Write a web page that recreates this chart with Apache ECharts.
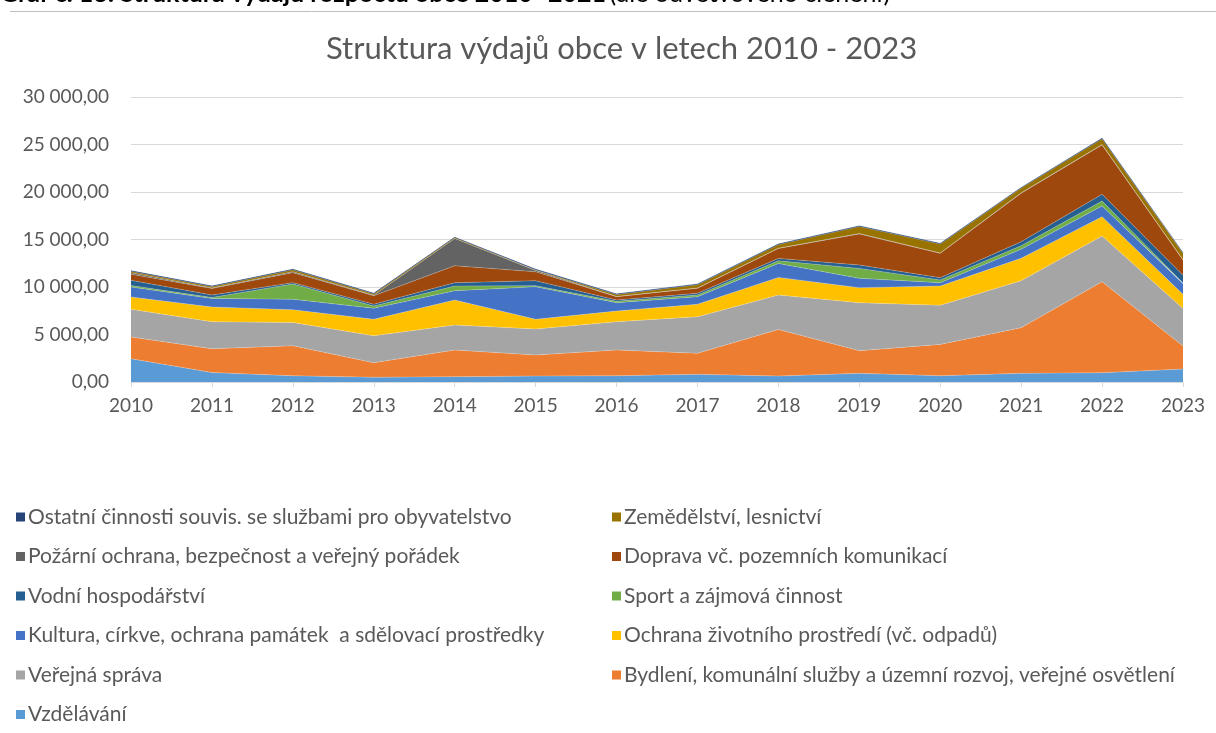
<!DOCTYPE html>
<html>
<head>
<meta charset="utf-8">
<title>Struktura výdajů obce</title>
<script src="https://cdn.jsdelivr.net/npm/echarts@6/dist/echarts.min.js"></script>
<style>
  html, body { margin: 0; padding: 0; background: #fff; }
  #chart { width: 1216px; height: 733px; }
</style>
</head>
<body>
<div id="chart"></div>
<script>
// roky
var years = ['2010', '2011', '2012', '2013', '2014', '2015', '2016', '2017', '2018', '2019', '2020', '2021', '2022', '2023'];

// výdaje podle odvětví
var vzdelavani = [2450, 1000, 660, 500, 560, 630, 660, 810, 630, 910, 660, 910, 980, 1370];
var bydleni = [2300, 2500, 3150, 1530, 2810, 2210, 2710, 2210, 4900, 2390, 3300, 4810, 9580, 2420];
var verejnaSprava = [2900, 2850, 2450, 2840, 2630, 2740, 2980, 3850, 3620, 5050, 4110, 4950, 4810, 3960];
var ochranaZP = [1300, 1550, 1350, 1730, 2630, 1020, 1120, 1310, 1860, 1580, 2030, 2350, 2030, 1480];
var kultura = [1050, 900, 1100, 1160, 980, 3430, 880, 800, 1470, 980, 350, 950, 1130, 1100];
var sport = [150, 100, 1600, 240, 490, 110, 140, 180, 280, 1050, 290, 380, 520, 100];
var vodni = [550, 250, 150, 180, 350, 520, 140, 180, 250, 360, 240, 420, 710, 800];
var doprava = [650, 700, 1050, 900, 1790, 940, 350, 520, 1050, 3260, 2560, 5090, 5190, 1600];
var pozarni = [150, 50, 100, 50, 2870, 150, 30, 40, 30, 50, 40, 50, 50, 30];
var zemedelstvi = [150, 150, 200, 150, 100, 50, 200, 350, 380, 740, 950, 500, 600, 700];
var ostatni = [50, 50, 50, 50, 20, 60, 50, 50, 50, 50, 50, 50, 50, 50];

var seriesNames = [
  'Vzdělávání',
  'Bydlení, komunální služby a územní rozvoj, veřejné osvětlení',
  'Veřejná správa',
  'Ochrana životního prostředí (vč. odpadů)',
  'Kultura, církve, ochrana památek  a sdělovací prostředky',
  'Sport a zájmová činnost',
  'Vodní hospodářství',
  'Doprava vč. pozemních komunikací',
  'Požární ochrana, bezpečnost a veřejný pořádek',
  'Zemědělství, lesnictví',
  'Ostatní činnosti souvis. se službami pro obyvatelstvo'
];
var seriesData = [vzdelavani, bydleni, verejnaSprava, ochranaZP, kultura, sport, vodni, doprava, pozarni, zemedelstvi, ostatni];
var colors = ['#5B9BD5', '#ED7D31', '#A5A5A5', '#FFC000', '#4472C4', '#70AD47', '#255E91', '#9E480E', '#636363', '#997300', '#264478'];

var font = 'Lato, "Noto Sans", sans-serif';

function fmt(v) {
  var s = Math.round(v).toString().replace(/\B(?=(\d{3})+(?!\d))/g, ' ');
  return s + ',00';
}

var series = seriesData.map(function (d, i) {
  return {
    name: seriesNames[i],
    type: 'line',
    stack: 'vydaje',
    data: d,
    symbol: 'none',
    color: colors[i],
    lineStyle: { width: 0.6, color: i === 10 ? '#264478' : 'rgba(255,255,255,0.35)' },
    areaStyle: { color: colors[i], opacity: 1 }
  };
});

var legendText = { fontFamily: font, fontSize: 21, color: '#595959', lineHeight: 22, padding: [0, 0, 0, -2] };

var myChart = echarts.init(document.getElementById('chart'));
myChart.setOption({
  animation: false,
  backgroundColor: '#fff',
  textStyle: { fontFamily: font },
  title: {
    text: 'Struktura výdajů obce v letech 2010 - 2023',
    left: 321,
    top: 28,
    textStyle: { fontFamily: font, fontSize: 31, fontWeight: 'normal', color: '#595959' }
  },
  graphic: [
    {
      type: 'text',
      left: 0,
      top: -19,
      style: {
        text: '{b|Graf č. 13: Struktura výdajů rozpočtu obce 2010 -2021} {n|(dle odvětvového členění)}',
        rich: {
          b: { fontFamily: font, fontSize: 25, fontWeight: 'bold', fill: '#000' },
          n: { fontFamily: font, fontSize: 25, fill: '#000' }
        }
      }
    },
    {
      type: 'line',
      shape: { x1: 10, y1: 11.5, x2: 1216, y2: 11.5 },
      style: { stroke: '#bfbfbf', lineWidth: 1 }
    }
  ],
  legend: [
    {
      orient: 'vertical',
      left: 16,
      top: 506,
      height: 227,
      padding: 0,
      icon: 'rect',
      itemWidth: 9,
      itemHeight: 9,
      itemGap: 17.5,
      data: [seriesNames[10], seriesNames[8], seriesNames[6], seriesNames[4], seriesNames[2], seriesNames[0]],
      textStyle: legendText
    },
    {
      orient: 'vertical',
      left: 612,
      top: 506,
      height: 227,
      padding: 0,
      icon: 'rect',
      itemWidth: 9,
      itemHeight: 9,
      itemGap: 17.5,
      data: [seriesNames[9], seriesNames[7], seriesNames[5], seriesNames[3], seriesNames[1]],
      textStyle: legendText
    }
  ],
  grid: { left: 131, right: 33, top: 97, bottom: 351, containLabel: false },
  xAxis: {
    type: 'category',
    data: years,
    boundaryGap: false,
    axisLine: { lineStyle: { color: '#d9d9d9' } },
    axisTick: { show: true, alignWithLabel: true, length: 5, lineStyle: { color: '#d9d9d9' } },
    axisLabel: { fontFamily: font, fontSize: 19, color: '#595959', margin: 14, interval: 0 }
  },
  yAxis: {
    type: 'value',
    min: 0,
    max: 30000,
    interval: 5000,
    axisLine: { show: false },
    axisTick: { show: false },
    splitLine: { lineStyle: { color: '#d9d9d9' } },
    axisLabel: { fontFamily: font, fontSize: 19, color: '#595959', margin: 22, formatter: fmt }
  },
  series: series
});
</script>
</body>
</html>
